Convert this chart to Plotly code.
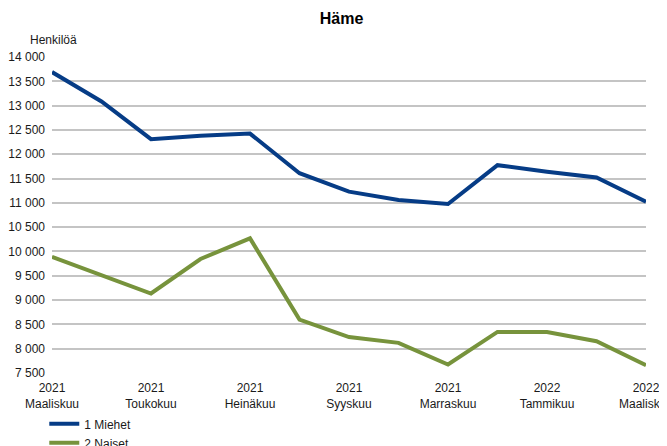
import plotly.graph_objects as go

months = ["2021<br>Maaliskuu", "", "2021<br>Toukokuu", "", "2021<br>Heinäkuu", "",
          "2021<br>Syyskuu", "", "2021<br>Marraskuu", "", "2022<br>Tammikuu", "",
          "2022<br>Maaliskuu"]
miehet = [13690, 13085, 12310, 12380, 12425, 11610, 11230, 11060, 10975, 11775, 11640, 11520, 11025]
naiset = [9890, 9510, 9135, 9845, 10270, 8600, 8240, 8120, 7675, 8345, 8345, 8155, 7660]
ytick_vals = [7500, 8000, 8500, 9000, 9500, 10000, 10500, 11000, 11500, 12000, 12500, 13000, 13500, 14000]
ytick_text = ["7 500", "8 000", "8 500", "9 000", "9 500", "10 000", "10 500", "11 000",
              "11 500", "12 000", "12 500", "13 000", "13 500", "14 000"]

x = list(range(len(months)))
font = "Liberation Sans, Arial, sans-serif"

fig = go.Figure()
fig.add_trace(go.Scatter(x=x, y=miehet, mode="lines", name="1 Miehet",
                         line=dict(color="#063C86", width=4)))
fig.add_trace(go.Scatter(x=x, y=naiset, mode="lines", name="2 Naiset",
                         line=dict(color="#77933C", width=4)))

fig.update_layout(
    width=667, height=446,
    margin=dict(l=44, r=29, t=49, b=81, autoexpand=False),
    paper_bgcolor="white", plot_bgcolor="white",
    font=dict(family=font, size=12, color="#1a1a1a"),
    title=dict(text="<b>Häme</b>", x=0.5, xanchor="center", y=0.977, yanchor="middle",
               font=dict(family=font, size=16, color="#000000")),
    showlegend=True,
    legend=dict(orientation="v", x=-0.013, xanchor="left", y=-0.115, yanchor="top",
                font=dict(family=font, size=12, color="#1a1a1a"),
                bgcolor="rgba(0,0,0,0)", tracegroupgap=0, itemwidth=30),
    annotations=[dict(text="Henkilöä", xref="paper", yref="paper", x=-0.041, y=1.055,
                      xanchor="left", yanchor="middle", showarrow=False,
                      font=dict(family=font, size=12, color="#1a1a1a"))],
)
fig.update_xaxes(range=[0, 12], tickvals=x, ticktext=months, showgrid=False,
                 zeroline=False, showline=False, ticks="", automargin=False,
                 ticklabeloverflow="allow", ticklabelstandoff=6,
                 tickfont=dict(family=font, size=12, color="#1a1a1a"))
fig.update_yaxes(range=[7500, 14000], tickvals=ytick_vals, ticktext=ytick_text,
                 showgrid=True, gridcolor="#c4c4c4", gridwidth=1.5, zeroline=False,
                 showline=False, ticks="", automargin=False, ticklabelstandoff=6,
                 tickfont=dict(family=font, size=12, color="#1a1a1a"))

fig.write_html("out.html")
